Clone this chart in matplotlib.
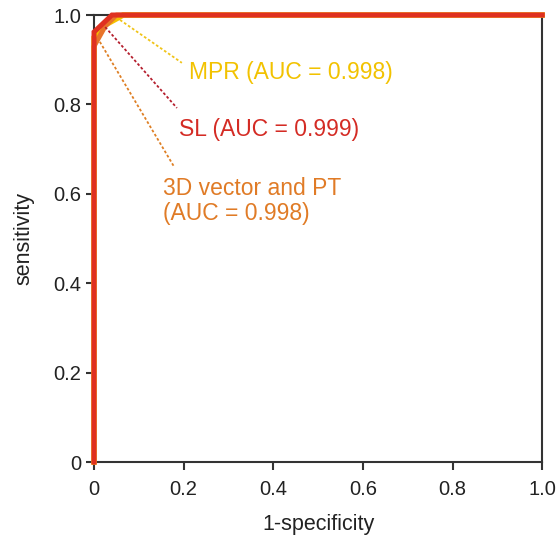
import matplotlib
matplotlib.use("Agg")
import matplotlib.pyplot as plt

plt.rcParams['font.family'] = ['Liberation Sans', 'DejaVu Sans']

# ROC curves (1-specificity, sensitivity)
mpr_fpr = [0, 0, 0.02, 0.065, 1.0]
mpr_tpr = [0, 0.95, 0.975, 1.0, 1.0]
vec_fpr = [0, 0, 0.025, 0.05, 1.0]
vec_tpr = [0, 0.93, 0.975, 1.0, 1.0]
sl_fpr = [0, 0, 0.04, 1.0]
sl_tpr = [0, 0.962, 1.0, 1.0]

labels = ['MPR (AUC = 0.998)', 'SL (AUC = 0.999)', '3D vector and PT\n(AUC = 0.998)']
text_colors = ['#F2C200', '#D42B24', '#E07B26']
leader_colors = ['#F0C419', '#B51F2E', '#DE7F24']
leader_from = [(0.058, 0.989), (0.025, 0.973), (0.013, 0.94)]
leader_to = [(0.196, 0.893), (0.185, 0.792), (0.179, 0.66)]
text_pos = [(0.212, 0.872), (0.19, 0.743), (0.153, 0.584)]

fig = plt.figure(figsize=(5.57, 5.36), dpi=100)
ax = fig.add_axes([0.1688, 0.138, 0.8046, 0.834])

ax.plot(mpr_fpr, mpr_tpr, color='#F5C000', lw=4, solid_joinstyle='miter', zorder=3, clip_on=False)
ax.plot(vec_fpr, vec_tpr, color='#E8742A', lw=3.5, zorder=4, clip_on=False)
ax.plot(sl_fpr, sl_tpr, color='#DF3020', lw=3.6, solid_joinstyle='miter', zorder=5, clip_on=False)

for (x0, y0), (x1, y1), c in zip(leader_from, leader_to, leader_colors):
    ax.plot([x0, x1], [y0, y1], color=c, lw=1.3, ls=(0, (1.5, 1.2)), zorder=6)

for (x, y), t, c in zip(text_pos, labels, text_colors):
    ax.text(x, y, t, color=c, fontsize=16.5, va='center', ha='left', linespacing=1.1)

ax.set_xlim(0, 1)
ax.set_ylim(0, 1)
ticks = [0, 0.2, 0.4, 0.6, 0.8, 1.0]
ax.set_xticks(ticks)
ax.set_yticks(ticks)
ax.set_xticklabels(['0', '0.2', '0.4', '0.6', '0.8', '1.0'])
ax.set_yticklabels(['0', '0.2', '0.4', '0.6', '0.8', '1.0'])
ax.tick_params(direction='out', length=6, width=1.5, colors='#333333', labelsize=14.5,
               labelcolor='#222222')
ax.tick_params(axis='x', pad=7)
ax.tick_params(axis='y', pad=3)
for s in ax.spines.values():
    s.set_color('#333333')
    s.set_linewidth(1.5)

ax.set_xlabel('1-specificity', fontsize=15.5, color='#222222', labelpad=11)
ax.set_ylabel('sensitivity', fontsize=15.5, color='#222222', labelpad=14)

fig.savefig('out.png', dpi=100)
